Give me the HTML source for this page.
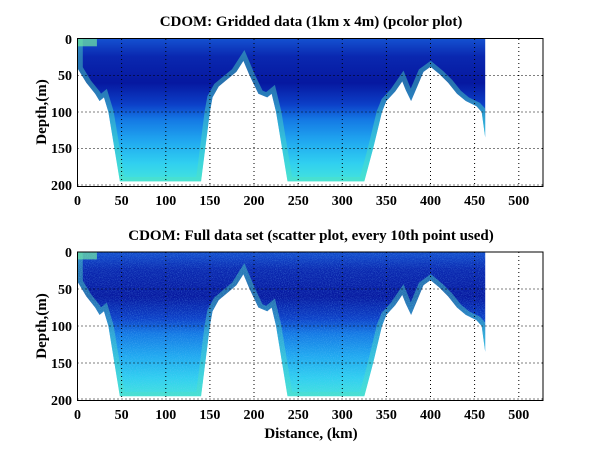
<!DOCTYPE html>
<html><head><meta charset="utf-8"><style>
html,body{margin:0;padding:0;background:#fff;}
svg{display:block;font-family:"Liberation Serif",serif;font-weight:bold;}
</style></head><body>
<svg width="600" height="451" viewBox="0 0 600 451" xmlns="http://www.w3.org/2000/svg">
<defs>
<linearGradient id="g" x1="0" y1="0" x2="0" y2="200" gradientUnits="userSpaceOnUse">
<stop offset="0" stop-color="#1450d0"/>
<stop offset="0.12" stop-color="#0a28b0"/>
<stop offset="0.3" stop-color="#0618a0"/>
<stop offset="0.45" stop-color="#0c40c8"/>
<stop offset="0.55" stop-color="#1478e4"/>
<stop offset="0.7" stop-color="#20a8f0"/>
<stop offset="0.85" stop-color="#30cff0"/>
<stop offset="1" stop-color="#48e8d8"/>
</linearGradient>
<polygon id="shape" points="0,0 462,0 462,135 458,100 452,92 440,85 430,75 420,60 410,48 400,38 392,45 385,65 378,85 372,70 368,58 360,72 350,85 345,100 335,150 325,195 238,195 225,100 220,75 215,80 205,75 195,50 188,30 180,45 170,55 160,65 153,80 150,100 140,195 48,195 35,100 30,80 25,85 20,75 10,60 0,40"/>
<polyline id="edge" points="462,135 458,100 452,92 440,85 430,75 420,60 410,48 400,38 392,45 385,65 378,85 372,70 368,58 360,72 350,85 345,100 335,150 325,195 238,195 225,100 220,75 215,80 205,75 195,50 188,30 180,45 170,55 160,65 153,80 150,100 140,195 48,195 35,100 30,80 25,85 20,75 10,60 0,40 0,0"/>
<clipPath id="cp"><use href="#shape"/></clipPath>
<filter id="noise" x="0" y="0" width="1" height="1"><feTurbulence type="fractalNoise" baseFrequency="0.9" numOctaves="2" seed="3"/><feColorMatrix type="matrix" values="0 0 0 0 0.2  0 0 0 0 0.6  0 0 0 0 1  0 0 0 1.6 -0.7"/></filter>
<g id="data">
<use href="#shape" fill="url(#g)"/>
<g clip-path="url(#cp)">
<use href="#edge" fill="none" stroke="#50e0c0" stroke-width="12" opacity="0.45"/>
<rect x="0" y="0" width="22" height="10" fill="#70e8a0" opacity="0.7"/>
</g>
</g>
</defs>

<!-- Top plot -->
<text x="311" y="26" font-size="15" text-anchor="middle">CDOM: Gridded data (1km x 4m) (pcolor plot)</text>
<g transform="translate(77.5,39) scale(0.8825,0.73)"><use href="#data"/></g>
<g stroke="#000" stroke-width="1" stroke-dasharray="1,3" fill="none">
<path d="M121.6 39V186M165.8 39V186M209.9 39V186M254 39V186M298.2 39V186M342.3 39V186M386.4 39V186M430.5 39V186M474.6 39V186M518.8 39V186"/>
<path d="M77.5 75.5H543M77.5 112H543M77.5 148.5H543M77.5 185H543"/>
</g>
<rect x="77.5" y="38.5" width="465.5" height="148" fill="none" stroke="#000"/>
<g font-size="14" text-anchor="middle">
<text x="77.5" y="205">0</text><text x="121.6" y="205">50</text><text x="165.8" y="205">100</text><text x="209.9" y="205">150</text><text x="254" y="205">200</text><text x="298.2" y="205">250</text><text x="342.3" y="205">300</text><text x="386.4" y="205">350</text><text x="430.5" y="205">400</text><text x="474.6" y="205">450</text><text x="518.8" y="205">500</text>
</g>
<g font-size="14" text-anchor="end">
<text x="72" y="44">0</text><text x="72" y="80">50</text><text x="72" y="117">100</text><text x="72" y="153">150</text><text x="72" y="190">200</text>
</g>
<text transform="translate(46,112) rotate(-90)" font-size="15" text-anchor="middle">Depth,(m)</text>

<!-- Bottom plot -->
<text x="311" y="240" font-size="15" text-anchor="middle">CDOM: Full data set (scatter plot, every 10th point used)</text>
<g transform="translate(77.5,252) scale(0.8825,0.74)"><use href="#data"/>
<g clip-path="url(#cp)"><rect x="0" y="0" width="470" height="200" filter="url(#noise)" opacity="0.5"/></g></g>
<g stroke="#000" stroke-width="1" stroke-dasharray="1,3" fill="none">
<path d="M121.6 252V400M165.8 252V400M209.9 252V400M254 252V400M298.2 252V400M342.3 252V400M386.4 252V400M430.5 252V400M474.6 252V400M518.8 252V400"/>
<path d="M77.5 289H543M77.5 326H543M77.5 363H543M77.5 399H543"/>
</g>
<rect x="77.5" y="252" width="465.5" height="148.5" fill="none" stroke="#000"/>
<g font-size="14" text-anchor="middle">
<text x="77.5" y="419">0</text><text x="121.6" y="419">50</text><text x="165.8" y="419">100</text><text x="209.9" y="419">150</text><text x="254" y="419">200</text><text x="298.2" y="419">250</text><text x="342.3" y="419">300</text><text x="386.4" y="419">350</text><text x="430.5" y="419">400</text><text x="474.6" y="419">450</text><text x="518.8" y="419">500</text>
</g>
<g font-size="14" text-anchor="end">
<text x="72" y="257">0</text><text x="72" y="294">50</text><text x="72" y="331">100</text><text x="72" y="368">150</text><text x="72" y="405">200</text>
</g>
<text transform="translate(46,326) rotate(-90)" font-size="15" text-anchor="middle">Depth,(m)</text>
<text x="311" y="438" font-size="15" text-anchor="middle">Distance, (km)</text>
</svg>
</body></html>
